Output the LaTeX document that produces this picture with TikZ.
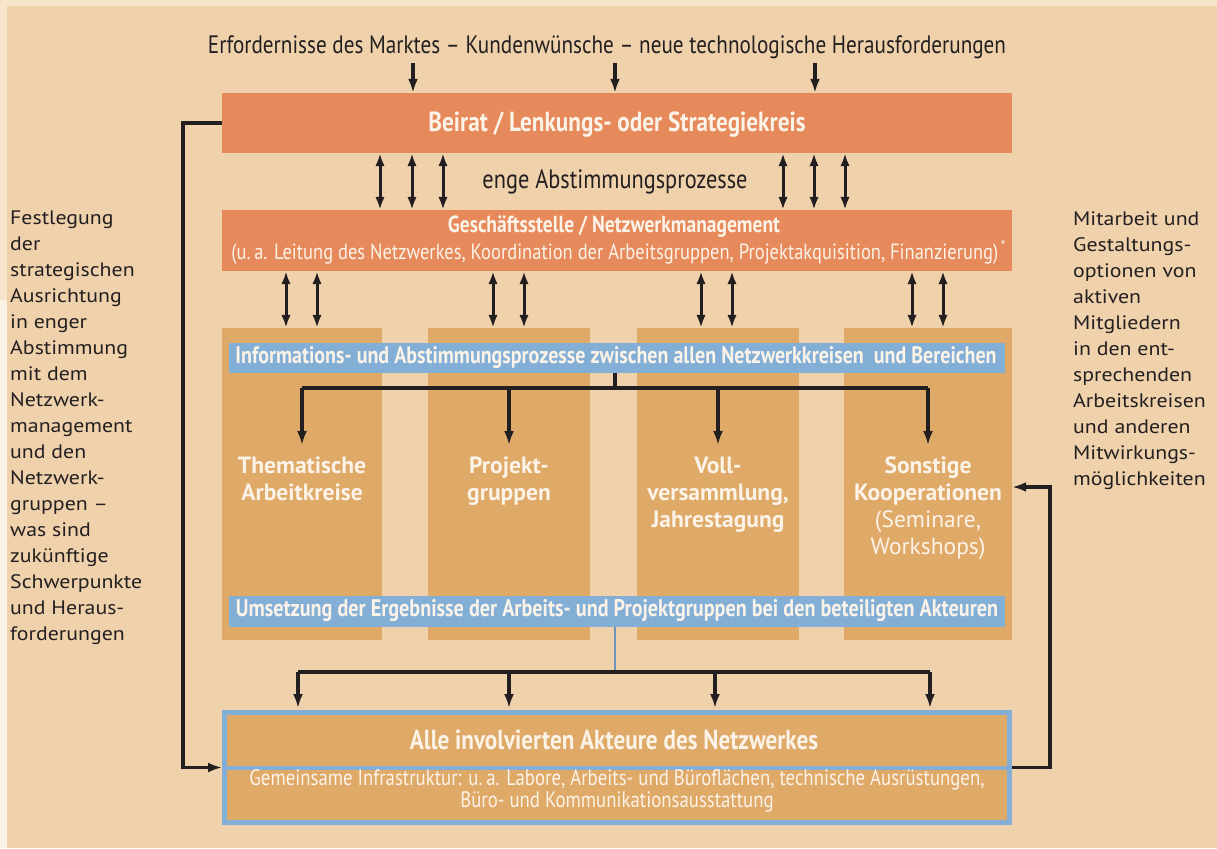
\documentclass[tikz,border=0pt]{standalone}
\usepackage{fontspec}
\setmainfont{PT Sans}
\newfontfamily\sidefont{PT Sans}[FakeStretch=1.12]
\newfontfamily\condfont{PT Sans}[FakeStretch=0.84]
\usepackage{graphicx}
\usetikzlibrary{arrows.meta}
% colours
\definecolor{bg}{HTML}{EFD2AC}
\definecolor{stripA}{HTML}{F6E5CB}
\definecolor{stripB}{HTML}{FAF2E6}
\definecolor{orangebox}{HTML}{E68A5C}
\definecolor{tanbox}{HTML}{DFA968}
\definecolor{bluebox}{HTML}{83AFD6}
\definecolor{blueline}{HTML}{6F95BE}
\definecolor{ink}{HTML}{231F20}
\definecolor{paper}{HTML}{FCF3E8}
% set a condensed line (or block) at a given width
\newcommand\fitw[2]{\resizebox{#1}{!}{#2}}
\begin{document}
\begin{tikzpicture}[x=1pt,y=-1pt,
  obox/.style={fill=orangebox, draw=none, inner sep=0pt},
  colbox/.style={fill=tanbox, draw=none, inner sep=0pt, minimum height=312pt},
  bandbox/.style={fill=bluebox, draw=none, inner sep=0pt, minimum width=776pt},
  wtext/.style={text=paper, inner sep=0pt, align=center},
  btext/.style={text=ink, inner sep=0pt},
  sidetext/.style={btext, font=\sidefont\fontsize{19.5}{26}\selectfont, align=left, anchor=north west},
  conn/.style={draw=ink, line width=3.3pt},
  arr/.style={conn, -{Latex[length=14pt,width=10pt]}},
  darr/.style={conn, line width=3pt, {Latex[length=13pt,width=9.5pt]}-{Latex[length=13pt,width=9.5pt]}},
]
\useasboundingbox (0,0) rectangle (1217,848);
% page background
\fill[bg] (0,0) rectangle (1217,848);
\fill[stripA] (0,0) rectangle (1217,6);
\fill[stripA] (0,0) rectangle (7,300);
\fill[stripB] (0,300) rectangle (7,848);

% headline
\node[btext, font=\condfont] (title) at (607,47)
  {\fitw{798pt}{Erfordernisse des Marktes – Kundenwünsche – neue technologische Herausforderungen}};

% steering board
\node[obox, minimum width=790pt, minimum height=60pt] (beirat) at (617,123) {};
\node[wtext, font=\condfont\bfseries] (beirattxt) at (617,125)
  {\fitw{377pt}{Beirat / Lenkungs- oder Strategiekreis}};

% close coordination
\node[btext, font=\condfont] (enge) at (615,182)
  {\fitw{265pt}{enge Abstimmungsprozesse}};

% office / network management
\node[obox, minimum width=790pt, minimum height=61pt] (gs) at (617,240.5) {};
\node[wtext, font=\condfont\bfseries] (gstxtA) at (614,227)
  {\fitw{332pt}{Geschäftsstelle / Netzwerkmanagement}};
\node[wtext, font=\condfont] (gstxtB) at (619,252)
  {\fitw{775pt}{(u.\,a. Leitung des Netzwerkes, Koordination der Arbeitsgruppen, Projektakquisition, Finanzierung)\textsuperscript{\,*}}};

% four working columns
\node[colbox, minimum width=160pt] (col1) at (302,484) {};
\node[colbox, minimum width=162pt] (col2) at (509,484) {};
\node[colbox, minimum width=162pt] (col3) at (718,484) {};
\node[colbox, minimum width=168pt] (col4) at (928,484) {};

% information band
\node[bandbox, minimum height=30pt] (band1) at (617,358) {};
\node[wtext, font=\condfont\bfseries] (band1txt) at (616,358)
  {\fitw{761pt}{Informations- und Abstimmungsprozesse zwischen allen Netzwerkkreisen\ \ und Bereichen}};

% implementation band
\node[bandbox, minimum height=31pt] (band2) at (617,611.5) {};
\node[wtext, font=\condfont\bfseries] (band2txt) at (617,611)
  {\fitw{762pt}{Umsetzung der Ergebnisse der Arbeits- und Projektgruppen bei den beteiligten Akteuren}};

% column labels
\begin{scope}[every node/.append style={wtext, font=\bfseries\fontsize{23.5}{27}\selectfont, anchor=north}]
\node (c1t) at (302,457) {Thematische\\Arbeitkreise};
\node (c2t) at (509,457) {Projekt-\\gruppen};
\node (c3t) at (718,457) {Voll-\\versammlung,\\Jahrestagung};
\node (c4t) at (928,457) {Sonstige\\Kooperationen\\{\mdseries(Seminare,}\\{\mdseries Workshops)}};
\end{scope}

% all actors
\node[fill=tanbox, draw=bluebox, line width=5pt, minimum width=785pt, minimum height=110pt, inner sep=0pt] (akteure) at (617,767.5) {};
\draw[draw=bluebox, line width=4pt] (akteure.west |- 0,768) -- (akteure.east |- 0,768);
\node[wtext, font=\condfont\bfseries] (akttxt) at (614,740)
  {\fitw{408pt}{Alle involvierten Akteure des Netzwerkes}};
\node[wtext, font=\condfont\fontsize{12}{11}\selectfont] (infratxt) at (617,792)
  {\fitw{735pt}{\begin{tabular}{@{}c@{}}Gemeinsame Infrastruktur: u.\,a. Labore, Arbeits- und Büroflächen, technische Ausrüstungen,\\Büro- und Kommunikationsausstattung\end{tabular}}};

% side notes
\node[sidetext] (lefttxt) at (10,211)
  {Festlegung\\der\\strategischen\\Ausrichtung\\in enger\\Abstimmung\\mit dem\\Netzwerk-\\management\\und den\\Netzwerk-\\gruppen –\\was sind\\zukünftige\\Schwerpunkte\\und Heraus-\\forderungen};
\node[sidetext] (righttxt) at (1073,211)
  {Mitarbeit und\\Gestaltungs-\\optionen von\\aktiven\\Mitgliedern\\in den ent-\\sprechenden\\Arbeitskreisen\\und anderen\\Mitwirkungs-\\möglichkeiten};

% market input arrows
\foreach \x in {413,615,815}
  \draw[arr] (title.south -| \x,0) ++(0,4) -- (beirat.north -| \x,0);

% board <-> management
\foreach \x in {380,412,443,783,814,845}
  \draw[darr] (beirat.south -| \x,0) -- (gs.north -| \x,0);

% management <-> columns
\foreach \x/\c in {286/col1,317/col1,493/col2,524/col2,701/col3,732/col3,912/col4,943/col4}
  \draw[darr] (gs.south -| \x,0) -- (\c.north -| \x,0);

% distribution from the information band
\coordinate (hubA) at (615,388);
\draw[conn] (band1.south -| hubA) -- (hubA);
\draw[conn] (c1t.north |- hubA) -- (c4t.north |- hubA);
\foreach \t in {c1t,c2t,c3t,c4t}
  \draw[arr] (\t.north |- hubA) -- ([yshift=12pt]\t.north);

% distribution to all actors
\coordinate (hubB) at (615,672);
\draw[draw=blueline, line width=2pt] (band2.south -| hubB) -- (hubB);
\coordinate (d1) at (298,0);
\coordinate (d2) at (509,0);
\coordinate (d3) at (715,0);
\coordinate (d4) at (930,0);
\draw[conn] (hubB -| d1) -- (hubB -| d4);
\foreach \d in {d1,d2,d3,d4}
  \draw[arr] (hubB -| \d) -- ([yshift=2pt]akteure.north -| \d);

% feedback loops
\draw[arr] (beirat.west) -| (183,700) |- (akteure.west);
\draw[arr] (akteure.east) -| (1050,600) |- (col4.east |- 0,487);
\end{tikzpicture}
\end{document}
